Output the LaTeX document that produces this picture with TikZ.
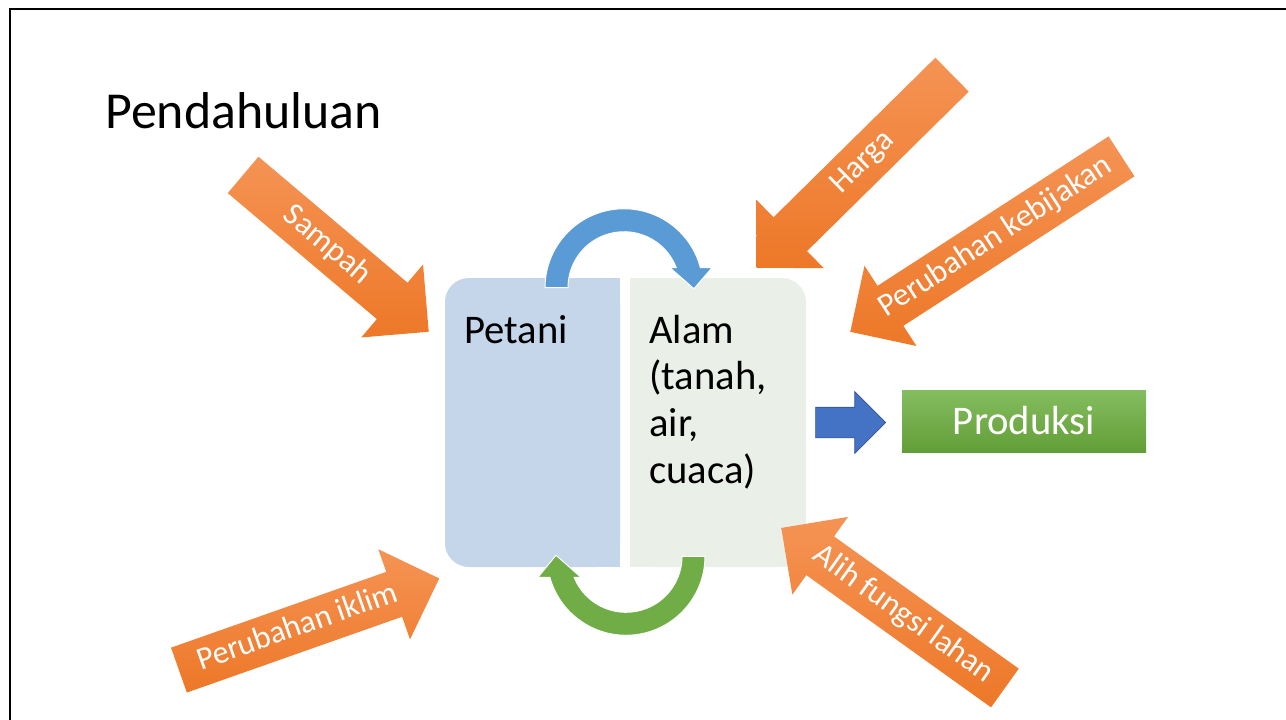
\documentclass[tikz,border=0pt]{standalone}
\usepackage{fontspec}
\setmainfont{Carlito}
\usetikzlibrary{shapes.arrows,calc}

\definecolor{petaniblue}{RGB}{197,213,234}
\definecolor{alamgrey}{RGB}{234,239,232}
\definecolor{cycleblue}{RGB}{91,155,213}
\definecolor{cyclegreen}{RGB}{112,173,71}
\definecolor{flowblue}{RGB}{68,114,196}
\definecolor{flowedge}{RGB}{47,82,143}
\definecolor{prodtop}{RGB}{133,189,96}
\definecolor{prodbot}{RGB}{98,158,55}
\definecolor{orangelight}{RGB}{245,147,84}
\definecolor{orangedark}{RGB}{237,120,40}

\newcommand{\pxu}{0.75pt}

\begin{document}
\begin{tikzpicture}[x=0.75pt, y=-0.75pt,
        every node/.style={inner sep=0pt},
        factor/.style={single arrow, top color=orangelight, bottom color=orangedark,
            text=white, font=\fontsize{24}{28}\selectfont,
            text height=16pt, text depth=4.5pt, inner xsep=4pt, inner ysep=7.4pt,
            single arrow head extend=18pt, single arrow tip angle=90, anchor=tip},
        boxtext/.style={anchor=base west, font=\fontsize{30.5}{35}\selectfont}]
        \useasboundingbox (0,0) rectangle (1286,719);
        \draw[line width=1.5pt] (9.5,8.5) rectangle (1300,740);

        \node[anchor=base west, font=\fontsize{38.9}{46}\selectfont] (title) at (105,128) {Pendahuluan};

        % the two halves
        \node[fill=petaniblue, rounded corners=18pt, minimum width=175*\pxu, minimum height=289*\pxu] (petani) at (532.5,422.5) {};
        \fill[petaniblue] (petani.north) rectangle (petani.south east);
        \node[fill=alamgrey, rounded corners=18pt, minimum width=176*\pxu, minimum height=289*\pxu] (alam) at (718,422.5) {};
        \fill[alamgrey] (alam.north west) rectangle (alam.south);

        % cycle between them
        \coordinate (topc) at ($(petani.north east)!.5!(alam.north west)+(-1,10)$);
        \coordinate (botc) at ($(petani.south east)!.5!(alam.south west)+(1,-11)$);
        \filldraw[fill=cycleblue, draw=white, line width=0.75pt]
            ($(topc)+(-79,0)$) arc[start angle=-180, end angle=-14.7, radius=79]
            -- ($(topc)+(88,-20)$) -- ($(topc)+(70,1)$) -- ($(topc)+(46,-20)$)
            -- ($(topc)+(52.3,-20)$) arc[start angle=-20.9, end angle=-180, radius=56] -- cycle;
        \filldraw[fill=cyclegreen, draw=white, line width=0.75pt]
            ($(botc)+(79,0)$) arc[start angle=0, end angle=164.6, radius=79]
            -- ($(botc)+(-88,21)$) -- ($(botc)+(-70,-1)$) -- ($(botc)+(-45,21)$)
            -- ($(botc)+(-51.9,21)$) arc[start angle=158, end angle=0, radius=56] -- cycle;

        \node[boxtext] (petanilbl) at (464,343) {Petani};
        \node[boxtext, align=left] (alamlbl) at (649,483) {Alam\\(tanah,\\air,\\cuaca)};

        % output
        \node[top color=prodtop, bottom color=prodbot, text=white, minimum width=244*\pxu, minimum height=62*\pxu,
            font=\fontsize{30.5}{36}\selectfont] (produksi) at (1024,421) {Produksi};
        \node[single arrow, fill=flowblue, draw=flowedge, line width=0.5pt, minimum height=70*\pxu,
            inner xsep=0pt, inner ysep=11.25pt, single arrow head extend=11.6pt, anchor=tail] (flow)
            at ([xshift=9*\pxu]alam.east) {};

        % outside factors
        \node[factor, rotate=-40.2, minimum height=243*\pxu] (sampah) at (429,332) {Sampah};
        \node[factor, shape border rotate=180, rotate=44.6, minimum height=275*\pxu] (harga) at (756,268) {Harga};
        \node[factor, shape border rotate=180, rotate=32.9, minimum height=323*\pxu] (kebijakan) at (850,332) {Perubahan kebijakan};
        \node[factor, rotate=19.4, minimum height=276*\pxu] (iklim) at (439.6,578.3) {Perubahan iklim};
        \node[factor, shape border rotate=180, rotate=-35.6, minimum height=275*\pxu] (alih) at (781,527.7) {Alih fungsi lahan};
\end{tikzpicture}
\end{document}
